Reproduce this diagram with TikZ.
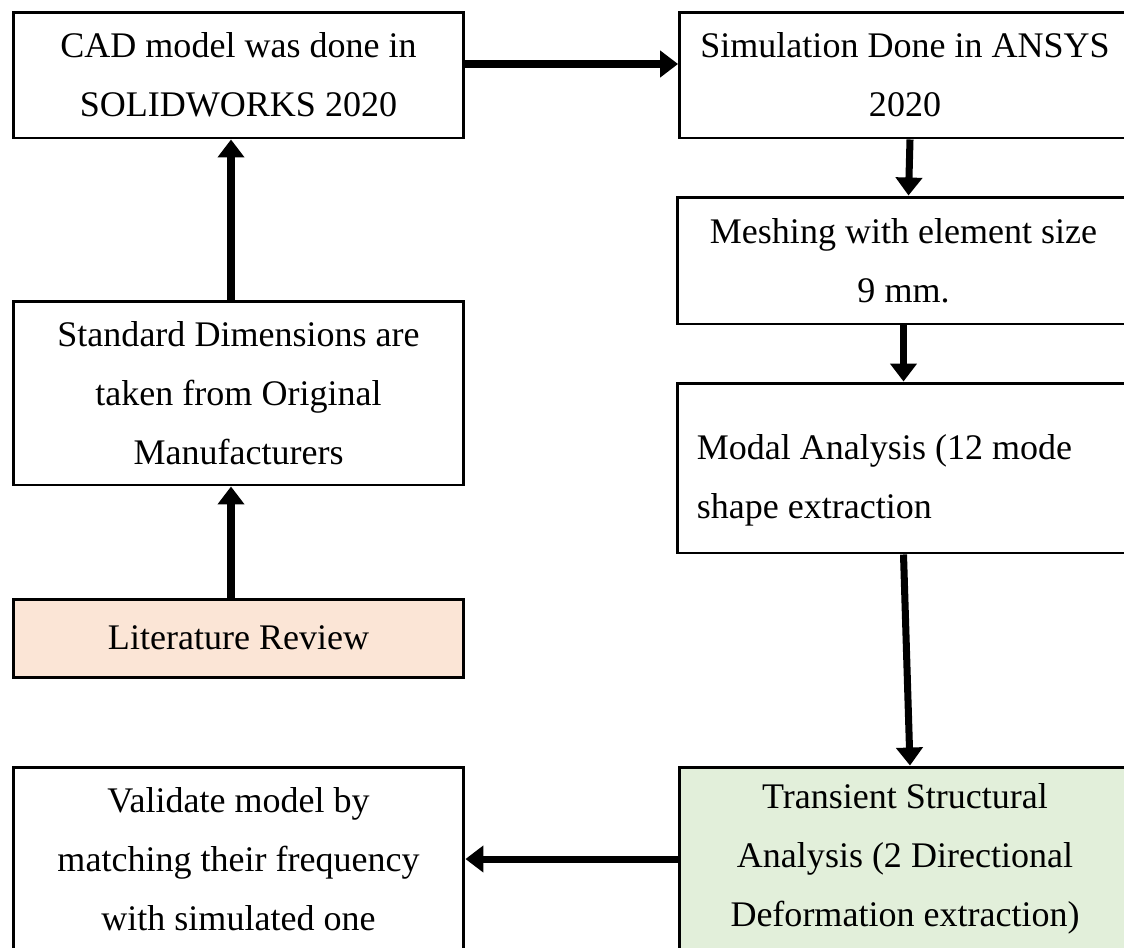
\documentclass[tikz,border=0pt]{standalone}
\usepackage{fontspec}
\setmainfont{Liberation Serif}
\usetikzlibrary{arrows.meta}

\definecolor{litfill}{HTML}{FBE5D6}
\definecolor{transfill}{HTML}{E2EFDA}

\tikzset{
  stagefont/.style={font=\fontsize{20.5}{33.5}\selectfont},
  stage/.style={draw, line width=1.7pt, minimum width=9.02cm, align=center,
    inner sep=0pt, stagefont},
  flow/.style={line width=4pt, -{Triangle[length=0.36cm,width=0.52cm]}}
}

\begin{document}
\begin{tikzpicture}[x=0.02cm, y=-0.02cm]

        \useasboundingbox (0,0) rectangle (1124,947);
        \clip (0,0) rectangle (1124,947);

        % left column
        \node[stage, minimum height=2.52cm] (cad) at (238.5,75)
          {CAD model was done in\\SOLIDWORKS 2020};
        \node[stage, minimum height=3.68cm] (dims) at (238.5,393)
          {Standard Dimensions are\\taken from Original\\Manufacturers};
        \node[stage, minimum height=1.56cm, fill=litfill] (review) at (238.5,638)
          {Literature Review};
        \node[stage, minimum height=3.68cm] (validate) at (238.5,859)
          {Validate model by\\matching their frequency\\with simulated one};

        % right column
        \node[stage, minimum height=2.52cm] (ansys) at (905,75)
          {Simulation Done in ANSYS\\2020};
        \node[stage, minimum width=9.06cm, minimum height=2.54cm] (mesh) at (903.5,260.5)
          {Meshing with element size\\9 mm.};
        \node[stage, minimum width=9.06cm, minimum height=3.4cm] (modal) at (903.5,468) {};
        \node[stagefont, align=flush left, inner sep=0pt, anchor=west] (modaltext)
          at ([xshift=0.42cm, yshift=-0.24cm]modal.west)
          {Modal Analysis (12 mode\\shape extraction};
        \node[stage, minimum height=3.68cm, fill=transfill] (transient) at (905,859)
          {Transient Structural\\Analysis (2 Directional\\Deformation extraction)};

        % connectors
        \draw[flow] ([xshift=-0.15cm]review.north) -- ([xshift=-0.15cm]dims.south);
        \draw[flow] ([xshift=-0.15cm]dims.north) -- ([xshift=-0.15cm]cad.south);
        \draw[flow] ([yshift=0.22cm]cad.east) -- ([yshift=0.22cm]ansys.west);
        \draw[flow] ([xshift=0.1cm]ansys.south) -- ([xshift=0.1cm]mesh.north);
        \draw[flow] (mesh.south) -- (modal.north);
        \draw[flow] (modal.south) -- ([xshift=0.1cm]transient.north);
        \draw[flow] (transient.west) -- (validate.east);

\end{tikzpicture}
\end{document}
